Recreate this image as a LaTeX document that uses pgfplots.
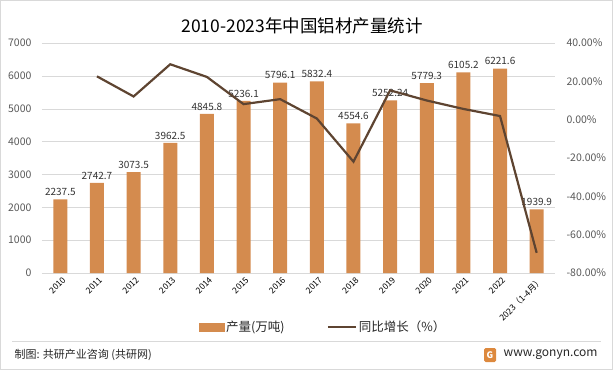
\documentclass[border=0pt]{standalone}
\usepackage{pgfplots}
\pgfplotsset{compat=1.18}
\usepackage{fontspec}
\setmainfont{Noto Sans CJK SC}
\definecolor{barc}{HTML}{D48B4E}
\definecolor{linec}{HTML}{5E4431}
\definecolor{txt}{HTML}{595959}
\definecolor{gridc}{HTML}{D9D9D9}
\begin{document}
\begin{tikzpicture}
\path[use as bounding box] (0pt,0pt) rectangle (613pt,370pt);
\draw[gridc] (0.5pt,0.5pt) rectangle (612.5pt,369.5pt);
\draw[gridc] (12pt,29pt) -- (601pt,29pt);
\node[anchor=west,font=\fontsize{11}{12}\selectfont,text=black!85] at (11pt,15pt) {制图: 共研产业咨询 (共研网)};
\node[anchor=east,font=\fontsize{12}{13}\selectfont,text=black!85] at (601pt,15pt) {www.gonyn.com};
\fill[barc!80!orange,rounded corners=1.5pt] (484pt,8pt) rectangle (496pt,22pt);
\node[font=\bfseries\fontsize{9}{10}\selectfont,text=white] at (490pt,15pt) {G};
\node[font=\fontsize{17.5}{19}\selectfont,text=black] at (302pt,344pt) {2010-2023年中国铝材产量统计};
\begin{axis}[
  at={(42pt,97pt)}, anchor=south west, scale only axis,
  width=513pt, height=230pt,
  ybar, bar width=14pt,
  xmin=-0.5, xmax=13.5, ymin=0, ymax=7000,
  ytick={0,1000,...,7000},
  xtick={0,...,13},
  xticklabels={2010,2011,2012,2013,2014,2015,2016,2017,2018,2019,2020,2021,2022,2023（1-4月）},
  x tick label style={rotate=45, anchor=north east, font=\fontsize{8.5}{9}\selectfont, text=black, xshift=2pt},
  y tick label style={font=\fontsize{10.5}{12}\selectfont, text=txt, xshift=-7pt},
  /pgf/number format/assume math mode=true,
  yticklabel={\pgfmathprintnumber[fixed,1000 sep={}]{\tick}},
  ymajorgrids, grid style={gridc},
  axis x line*=bottom, axis y line*=left,
  x axis line style={gridc}, y axis line style={draw=none},
  major tick length=0pt,
  nodes near coords,
  nodes near coords style={font=\fontsize{10}{11}\selectfont, text=black!80},
  point meta=explicit symbolic,
]
\addplot[fill=barc, draw=none] coordinates {
(0,2237.5) [2237.5]
(1,2742.7) [2742.7]
(2,3073.5) [3073.5]
(3,3962.5) [3962.5]
(4,4845.8) [4845.8]
(5,5236.1) [5236.1]
(6,5796.1) [5796.1]
(7,5832.4) [5832.4]
(8,4554.6) [4554.6]
(9,5252.24) [5252.24]
(10,5779.3) [5779.3]
(11,6105.2) [6105.2]
(12,6221.6) [6221.6]
(13,1939.9) [1939.9]
};
\end{axis}
\begin{axis}[
  at={(42pt,97pt)}, anchor=south west, scale only axis,
  width=513pt, height=230pt,
  xmin=-0.5, xmax=13.5, ymin=-80, ymax=40,
  ytick={-80,-60,...,40},
  axis x line=none, axis y line*=right,
  y axis line style={draw=none},
  major tick length=0pt,
  /pgf/number format/assume math mode=true,
  yticklabel={\pgfmathprintnumber[fixed,fixed zerofill,precision=2]{\tick}\%},
  y tick label style={font=\fontsize{10.5}{12}\selectfont, text=txt, xshift=8pt},
  legend style={at={(0.548,-0.235)}, anchor=center, draw=none, fill=none,
    font=\fontsize{12.5}{14}\selectfont, text=black!85, legend columns=2,
    /tikz/every even column/.append style={column sep=40pt}},
]
\addlegendimage{legend image code/.code={\fill[barc] (0pt,-4pt) rectangle (25pt,4pt);}}
\addlegendentry{产量(万吨)}
\addplot[linec, line width=2.2pt, mark=none, legend image code/.code={\draw[linec,line width=2.2pt] (0pt,0pt) -- (28pt,0pt);}] coordinates {
(1,22.6) (2,12.1) (3,28.9) (4,22.3) (5,8.1) (6,10.7) (7,0.6) (8,-21.9) (9,15.3) (10,10.0) (11,5.6) (12,1.9) (13,-69.5)
};
\addlegendentry{同比增长（\%）}
\end{axis}
\end{tikzpicture}
\end{document}
